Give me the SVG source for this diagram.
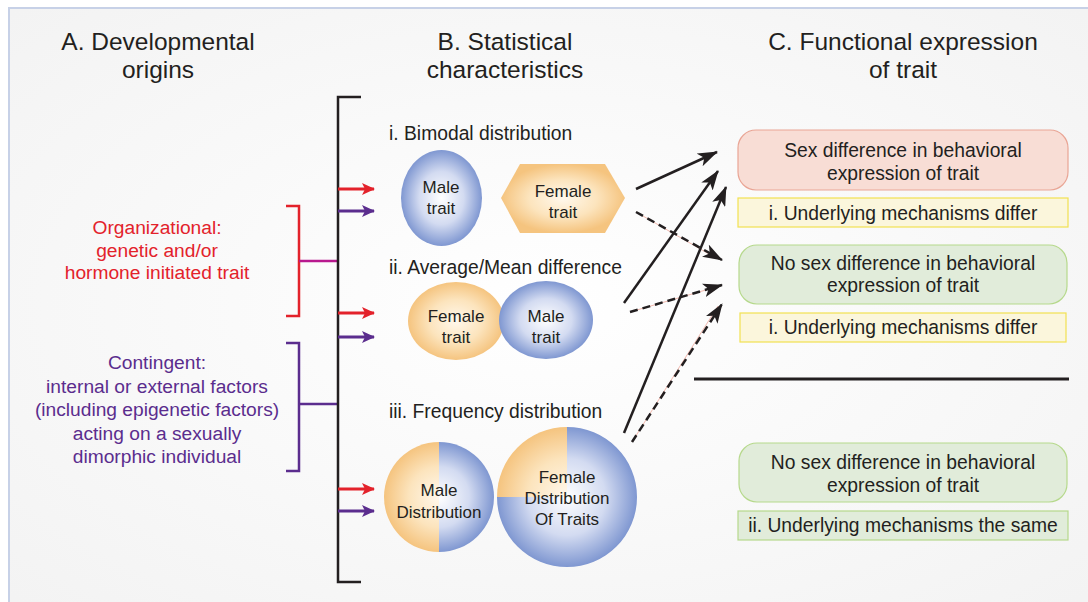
<svg xmlns="http://www.w3.org/2000/svg" width="1088" height="602" viewBox="0 0 1088 602">
<defs>
<style>
text{font-family:"Liberation Sans",Arial,sans-serif;fill:#231f20;text-anchor:middle;dominant-baseline:central}
.h{font-size:24.5px}
.sec{font-size:19.3px;text-anchor:start}
.lbl{font-size:17px}
.side{font-size:19.2px}
.box{font-size:19.3px}
.red{fill:#e3222b}
.pur{fill:#5b2d8e}
.blk{stroke:#231f20;stroke-width:2.5;fill:none;marker-end:url(#ah)}
.dash{stroke-dasharray:8 5}
.pink{stroke:#f2b9ae;stroke-width:1;fill:none}
.ra{stroke:#e3222b;stroke-width:3;marker-end:url(#rh)}
.pa{stroke:#5b2d8e;stroke-width:3;marker-end:url(#ph)}
</style>
<radialGradient id="bg" cx="0.5" cy="0.5" r="0.7">
<stop offset="0" stop-color="#ffffff"/><stop offset="1" stop-color="#f3f3f3"/>
</radialGradient>
<radialGradient id="blue" cx="0.5" cy="0.5" r="0.5">
<stop offset="0" stop-color="#ffffff"/><stop offset="0.55" stop-color="#d3dbf1"/><stop offset="1" stop-color="#7f97d1"/>
</radialGradient>
<radialGradient id="orange" cx="0.5" cy="0.5" r="0.5">
<stop offset="0" stop-color="#fff8ec"/><stop offset="0.55" stop-color="#fce4bd"/><stop offset="1" stop-color="#f5c47f"/>
</radialGradient>
<radialGradient id="mdB" gradientUnits="userSpaceOnUse" cx="439" cy="497" r="55">
<stop offset="0" stop-color="#ffffff"/><stop offset="0.55" stop-color="#d3dbf1"/><stop offset="1" stop-color="#7f97d1"/>
</radialGradient>
<radialGradient id="mdO" gradientUnits="userSpaceOnUse" cx="439" cy="497" r="55">
<stop offset="0" stop-color="#fff8ec"/><stop offset="0.55" stop-color="#fce4bd"/><stop offset="1" stop-color="#f5c47f"/>
</radialGradient>
<radialGradient id="fdB" gradientUnits="userSpaceOnUse" cx="567" cy="497" r="70">
<stop offset="0" stop-color="#ffffff"/><stop offset="0.55" stop-color="#d3dbf1"/><stop offset="1" stop-color="#7f97d1"/>
</radialGradient>
<radialGradient id="fdO" gradientUnits="userSpaceOnUse" cx="567" cy="497" r="70">
<stop offset="0" stop-color="#fff8ec"/><stop offset="0.55" stop-color="#fce4bd"/><stop offset="1" stop-color="#f5c47f"/>
</radialGradient>
<marker id="ah" viewBox="0 0 20 14" refX="19" refY="7" markerWidth="20" markerHeight="14" markerUnits="userSpaceOnUse" orient="auto">
<path d="M0,0 L20,7 L0,14 L5,7 Z" fill="#231f20"/>
</marker>
<marker id="rh" viewBox="0 0 13 12" refX="12" refY="6" markerWidth="13" markerHeight="12" markerUnits="userSpaceOnUse" orient="auto">
<path d="M0,0 L13,6 L0,12 L3,6 Z" fill="#e3222b"/>
</marker>
<marker id="ph" viewBox="0 0 13 12" refX="12" refY="6" markerWidth="13" markerHeight="12" markerUnits="userSpaceOnUse" orient="auto">
<path d="M0,0 L13,6 L0,12 L3,6 Z" fill="#5b2d8e"/>
</marker>
</defs>

<rect x="0" y="0" width="1088" height="602" fill="#ffffff"/>
<rect x="9" y="8" width="1079" height="594" fill="url(#bg)"/>
<path d="M9,602 V8 H1088" fill="none" stroke="#c7d1e7" stroke-width="2"/>

<g id="headers">
<text class="h" x="158" y="41">A. Developmental</text>
<text class="h" x="158" y="69">origins</text>
<text class="h" x="505" y="41">B. Statistical</text>
<text class="h" x="505" y="69">characteristics</text>
<text class="h" x="903" y="41">C. Functional expression</text>
<text class="h" x="903" y="69">of trait</text>
</g>

<g id="organizational">
<path d="M286,206 H299 V316 H286" fill="none" stroke="#e3222b" stroke-width="2.5"/>
<line x1="299" y1="261" x2="338" y2="261" stroke="#b8198e" stroke-width="2.5"/>
<text class="side red" x="157" y="227">Organizational:</text>
<text class="side red" x="157" y="250">genetic and/or</text>
<text class="side red" x="157" y="272">hormone initiated trait</text>
</g>

<g id="contingent">
<path d="M286,343 H299 V471 H286" fill="none" stroke="#5b2d8e" stroke-width="2.5"/>
<line x1="299" y1="404" x2="338" y2="404" stroke="#5b2d8e" stroke-width="2.5"/>
<text class="side pur" x="157" y="362">Contingent:</text>
<text class="side pur" x="157" y="386">internal or external factors</text>
<text class="side pur" x="157" y="409">(including epigenetic factors)</text>
<text class="side pur" x="157" y="433">acting on a sexually</text>
<text class="side pur" x="157" y="456">dimorphic individual</text>
</g>

<g id="main-bracket">
<path d="M361,97 H338 V582 H361" fill="none" stroke="#231f20" stroke-width="2.5"/>
</g>

<g id="bimodal">
<text class="sec" x="389" y="133">i. Bimodal distribution</text>
<ellipse cx="441.5" cy="198" rx="40.5" ry="48" fill="url(#blue)"/>
<text class="lbl" x="441" y="187">Male</text>
<text class="lbl" x="441" y="208">trait</text>
<polygon points="501,198 520,164 605,164 625,198 605,233 520,233" fill="url(#orange)"/>
<text class="lbl" x="563" y="191">Female</text>
<text class="lbl" x="563" y="212">trait</text>
</g>

<g id="average">
<text class="sec" x="389" y="267">ii. Average/Mean difference</text>
<ellipse cx="456" cy="321" rx="48" ry="39" fill="url(#orange)"/>
<ellipse cx="546" cy="320" rx="47" ry="39" fill="url(#blue)"/>
<text class="lbl" x="456" y="316">Female</text>
<text class="lbl" x="456" y="337">trait</text>
<text class="lbl" x="546" y="316">Male</text>
<text class="lbl" x="546" y="337">trait</text>
</g>

<g id="frequency">
<text class="sec" x="389" y="411">iii. Frequency distribution</text>
<path d="M439,442 A55,55 0 0 0 439,552 Z" fill="url(#mdO)"/>
<path d="M439,442 A55,55 0 0 1 439,552 Z" fill="url(#mdB)"/>
<text class="lbl" x="439" y="490">Male</text>
<text class="lbl" x="439" y="512">Distribution</text>
<path d="M567,497 L567,427 A70,70 0 0 0 497,497 Z" fill="url(#fdO)"/>
<path d="M567,497 L497,497 A70,70 0 1 0 567,427 Z" fill="url(#fdB)"/>
<text class="lbl" x="567" y="477">Female</text>
<text class="lbl" x="567" y="498">Distribution</text>
<text class="lbl" x="567" y="519">Of Traits</text>
</g>

<g id="sex-diff">
<rect x="738" y="130" width="330" height="60" rx="18" fill="#f8ddd5" stroke="#e9a595" stroke-width="1.2"/>
<text class="box" x="903" y="150">Sex difference in behavioral</text>
<text class="box" x="903" y="173">expression of trait</text>
</g>
<g id="mech-differ-1">
<rect x="738" y="198" width="330" height="29" fill="#fbf6dc" stroke="#f2e250" stroke-width="1.2"/>
<text class="box" x="903" y="213">i. Underlying mechanisms differ</text>
</g>
<g id="no-diff-1">
<rect x="739" y="245" width="328" height="59" rx="18" fill="#e1ecda" stroke="#b6d98c" stroke-width="1.2"/>
<text class="box" x="903" y="263">No sex difference in behavioral</text>
<text class="box" x="903" y="285">expression of trait</text>
</g>
<g id="mech-differ-2">
<rect x="740" y="313" width="326" height="29" fill="#fbf6dc" stroke="#f2e250" stroke-width="1.2"/>
<text class="box" x="903" y="327">i. Underlying mechanisms differ</text>
</g>
<g id="divider">
<line x1="694" y1="379" x2="1069" y2="379" stroke="#231f20" stroke-width="3"/>
</g>
<g id="no-diff-2">
<rect x="739" y="443" width="328" height="59" rx="18" fill="#e1ecda" stroke="#b6d98c" stroke-width="1.2"/>
<text class="box" x="903" y="462">No sex difference in behavioral</text>
<text class="box" x="903" y="485">expression of trait</text>
</g>
<g id="mech-same">
<rect x="738" y="511" width="330" height="29" fill="#e1ecda" stroke="#b6d98c" stroke-width="1.2"/>
<text class="box" x="903" y="525">ii. Underlying mechanisms the same</text>
</g>

<g id="connectors">
<line class="ra" x1="338" y1="189" x2="374" y2="189"/>
<line class="pa" x1="338" y1="211" x2="374" y2="211"/>
<line class="ra" x1="338" y1="313" x2="374" y2="313"/>
<line class="pa" x1="338" y1="337" x2="374" y2="337"/>
<line class="ra" x1="338" y1="489" x2="374" y2="489"/>
<line class="pa" x1="338" y1="511" x2="374" y2="511"/>

<line class="pink" x1="636" y1="212" x2="716" y2="258"/>
<line class="pink" x1="630" y1="312" x2="716" y2="287"/>
<line class="pink" x1="632" y1="442" x2="718" y2="306"/>

<line class="blk" x1="636" y1="189" x2="717" y2="152"/>
<line class="blk dash" x1="636" y1="212" x2="722" y2="260"/>
<line class="blk" x1="624" y1="303" x2="718" y2="171"/>
<line class="blk dash" x1="630" y1="312" x2="722" y2="285"/>
<line class="blk" x1="624" y1="433" x2="726" y2="187"/>
<line class="blk dash" x1="632" y1="442" x2="722" y2="304"/>
</g>
</svg>
